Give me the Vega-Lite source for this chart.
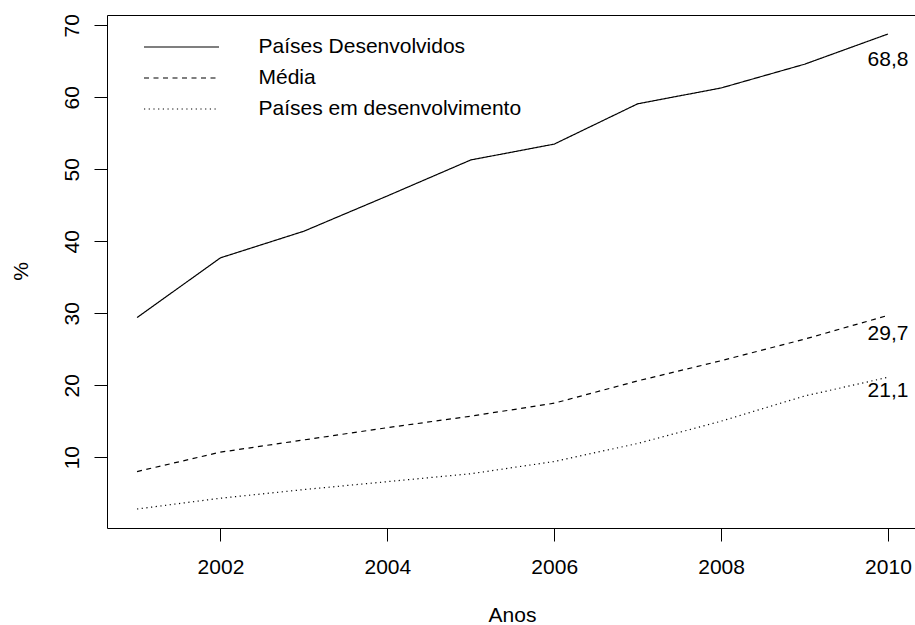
{
  "$schema": "https://vega.github.io/schema/vega-lite/v6.json",
  "width": 811,
  "height": 513,
  "autosize": {"type": "none"},
  "padding": {"left": 107, "top": 15, "right": -3, "bottom": 97},
  "background": "white",
  "config": {
    "view": {"stroke": "black", "strokeWidth": 1},
    "font": "Liberation Sans",
    "axis": {
      "grid": false,
      "domain": false,
      "tickColor": "black",
      "tickSize": 13,
      "tickWidth": 1,
      "labelColor": "black",
      "labelFontSize": 21,
      "labelFont": "Liberation Sans",
      "titleColor": "black",
      "titleFontSize": 21,
      "titleFont": "Liberation Sans",
      "titleFontWeight": "normal"
    }
  },
  "data": {
    "values": [
      {"ano": 2001, "serie": "Países Desenvolvidos", "valor": 29.4},
      {"ano": 2002, "serie": "Países Desenvolvidos", "valor": 37.7},
      {"ano": 2003, "serie": "Países Desenvolvidos", "valor": 41.4},
      {"ano": 2004, "serie": "Países Desenvolvidos", "valor": 46.3},
      {"ano": 2005, "serie": "Países Desenvolvidos", "valor": 51.3},
      {"ano": 2006, "serie": "Países Desenvolvidos", "valor": 53.5},
      {"ano": 2007, "serie": "Países Desenvolvidos", "valor": 59.1},
      {"ano": 2008, "serie": "Países Desenvolvidos", "valor": 61.3},
      {"ano": 2009, "serie": "Países Desenvolvidos", "valor": 64.6},
      {"ano": 2010, "serie": "Países Desenvolvidos", "valor": 68.8, "rotulo": "68,8"},
      {"ano": 2001, "serie": "Média", "valor": 8.0},
      {"ano": 2002, "serie": "Média", "valor": 10.7},
      {"ano": 2003, "serie": "Média", "valor": 12.4},
      {"ano": 2004, "serie": "Média", "valor": 14.1},
      {"ano": 2005, "serie": "Média", "valor": 15.7},
      {"ano": 2006, "serie": "Média", "valor": 17.5},
      {"ano": 2007, "serie": "Média", "valor": 20.6},
      {"ano": 2008, "serie": "Média", "valor": 23.4},
      {"ano": 2009, "serie": "Média", "valor": 26.4},
      {"ano": 2010, "serie": "Média", "valor": 29.7, "rotulo": "29,7"},
      {"ano": 2001, "serie": "Países em desenvolvimento", "valor": 2.8},
      {"ano": 2002, "serie": "Países em desenvolvimento", "valor": 4.3},
      {"ano": 2003, "serie": "Países em desenvolvimento", "valor": 5.5},
      {"ano": 2004, "serie": "Países em desenvolvimento", "valor": 6.6},
      {"ano": 2005, "serie": "Países em desenvolvimento", "valor": 7.7},
      {"ano": 2006, "serie": "Países em desenvolvimento", "valor": 9.4},
      {"ano": 2007, "serie": "Países em desenvolvimento", "valor": 11.9},
      {"ano": 2008, "serie": "Países em desenvolvimento", "valor": 15.0},
      {"ano": 2009, "serie": "Países em desenvolvimento", "valor": 18.5},
      {"ano": 2010, "serie": "Países em desenvolvimento", "valor": 21.1, "rotulo": "21,1"}
    ]
  },
  "encoding": {
    "x": {
      "field": "ano",
      "type": "quantitative",
      "title": "Anos",
      "scale": {"domain": [2000.64, 2010.36], "nice": false, "zero": false},
      "axis": {
        "values": [2002, 2004, 2006, 2008, 2010],
        "format": "d",
        "labelPadding": 15,
        "labelBaseline": "top",
        "titleX": 405,
        "titleY": 93,
        "titleAlign": "center",
        "titleBaseline": "alphabetic",
        "labelFlush": false,
        "labelOverlap": false
      }
    },
    "y": {
      "field": "valor",
      "type": "quantitative",
      "title": "%",
      "scale": {"domain": [0.16, 71.44], "nice": false, "zero": false},
      "axis": {
        "values": [10, 20, 30, 40, 50, 60, 70],
        "labelAngle": -90,
        "labelAlign": "center",
        "labelBaseline": "alphabetic",
        "labelPadding": 16,
        "titleAngle": -90,
        "titleX": -80,
        "titleY": 256,
        "titleAlign": "center",
        "titleBaseline": "alphabetic",
        "labelFlush": false,
        "labelOverlap": false
      }
    }
  },
  "layer": [
    {
      "mark": {"type": "line", "color": "black", "strokeWidth": 1.2},
      "encoding": {
        "strokeDash": {
          "field": "serie",
          "type": "nominal",
          "scale": {
            "domain": ["Países Desenvolvidos", "Média", "Países em desenvolvimento"],
            "range": [[1, 0], [5, 4.5], [1.2, 3.5]]
          },
          "legend": {
            "title": null,
            "orient": "none",
            "legendX": 53.5,
            "legendY": 11,
            "padding": 0,
            "symbolType": "M-1.875,0H1.875",
            "symbolSize": 1600,
            "symbolStrokeColor": "black",
            "symbolStrokeWidth": 1.2,
            "symbolFillColor": "transparent",
            "labelFontSize": 21,
            "labelFont": "Liberation Sans",
            "labelColor": "black",
            "labelOffset": 56,
            "rowPadding": 0,
            "labelLimit": 500
          }
        }
      }
    },
    {
      "transform": [{"filter": "datum.serie === 'Países Desenvolvidos' && datum.rotulo"}],
      "mark": {"type": "text", "fontSize": 21, "font": "Liberation Sans", "color": "black", "align": "center", "baseline": "middle", "dy": 25.5},
      "encoding": {"text": {"field": "rotulo"}}
    },
    {
      "transform": [{"filter": "datum.serie === 'Média' && datum.rotulo"}],
      "mark": {"type": "text", "fontSize": 21, "font": "Liberation Sans", "color": "black", "align": "center", "baseline": "middle", "dy": 19},
      "encoding": {"text": {"field": "rotulo"}}
    },
    {
      "transform": [{"filter": "datum.serie === 'Países em desenvolvimento' && datum.rotulo"}],
      "mark": {"type": "text", "fontSize": 21, "font": "Liberation Sans", "color": "black", "align": "center", "baseline": "middle", "dy": 14},
      "encoding": {"text": {"field": "rotulo"}}
    }
  ]
}
